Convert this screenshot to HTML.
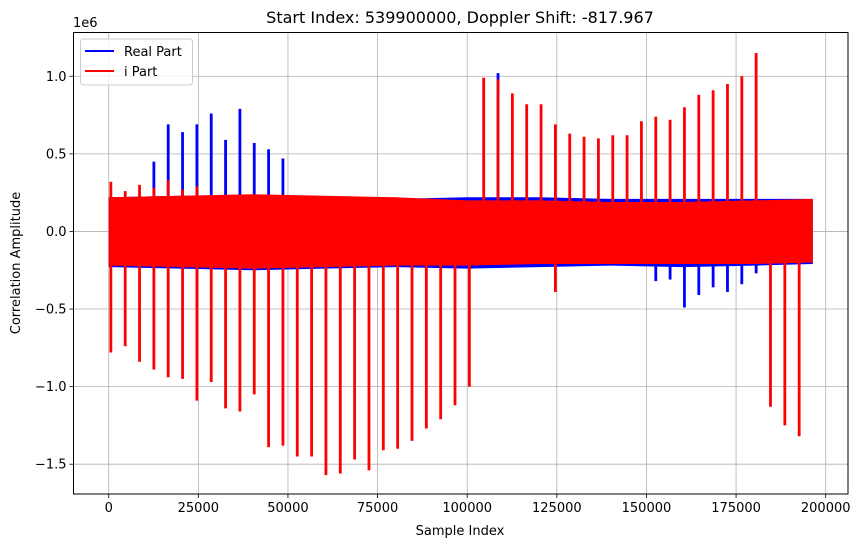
<!DOCTYPE html>
<html><head><meta charset="utf-8"><style>
body{margin:0;background:#fff;}
svg text{font-family:"DejaVu Sans","Liberation Sans",sans-serif;fill:#000;}
</style></head><body>
<svg id="chart" width="863" height="547" viewBox="0 0 863 547" xmlns="http://www.w3.org/2000/svg"></svg>
<script>
// ---- data (amplitudes in 1e6) ----
const spikeOffset = 600, spikeStep = 4000;
const redNegK = [0,1,2,3,4,5,6,7,8,9,10,11,12,13,14,15,16,17,18,19,20,21,22,23,24,25,31,46,47,48];
const redNegV = [-0.78,-0.74,-0.84,-0.89,-0.94,-0.95,-1.09,-0.97,-1.14,-1.16,-1.05,-1.39,-1.38,-1.45,-1.45,-1.57,-1.56,-1.47,-1.54,-1.41,-1.40,-1.35,-1.27,-1.21,-1.12,-1.00,-0.39,-1.13,-1.25,-1.32];
const redPosK = [0,1,2,3,4,5,6,26,27,28,29,30,31,32,33,34,35,36,37,38,39,40,41,42,43,44,45];
const redPosV = [0.32,0.26,0.30,0.28,0.33,0.27,0.29,0.99,0.98,0.89,0.82,0.82,0.69,0.63,0.61,0.60,0.62,0.62,0.71,0.74,0.72,0.80,0.88,0.91,0.95,1.00,1.15];
const bluePosK = [3,4,5,6,7,8,9,10,11,12,27];
const bluePosV = [0.45,0.69,0.64,0.69,0.76,0.59,0.79,0.57,0.53,0.47,1.02];
const blueNegK = [38,39,40,41,42,43,44,45];
const blueNegV = [-0.32,-0.31,-0.49,-0.41,-0.36,-0.39,-0.34,-0.27];
// noise envelopes sampled at these sample indices
const envX = [0,20000,40000,60000,80000,100000,120000,140000,160000,180000,196400];
const blueUp = [0.22,0.23,0.23,0.22,0.21,0.22,0.22,0.21,0.21,0.21,0.21];
const blueLo = [-0.23,-0.24,-0.25,-0.24,-0.23,-0.24,-0.23,-0.22,-0.23,-0.22,-0.21];
const redUp = [0.22,0.23,0.24,0.23,0.22,0.20,0.20,0.19,0.19,0.20,0.21];
const redLo = [-0.22,-0.23,-0.24,-0.23,-0.22,-0.22,-0.21,-0.21,-0.21,-0.21,-0.20];
const xTicks = [0,25000,50000,75000,100000,125000,150000,175000,200000];
const yTicks = [-1.5,-1.0,-0.5,0.0,0.5,1.0];
const yTickLabels = ["−1.5","−1.0","−0.5","0.0","0.5","1.0"];

const L=73.5,R=848,T=32.5,B=494;
const xMin=-9820,xMax=206220,yMin=-1.692,yMax=1.282;
const X=v=>L+(v-xMin)/(xMax-xMin)*(R-L);
const Y=v=>B-(v-yMin)/(yMax-yMin)*(B-T);
const NS='http://www.w3.org/2000/svg';
const svg=document.getElementById('chart');
function mk(tag,attrs,parent){const e=document.createElementNS(NS,tag);for(const k in attrs)e.setAttribute(k,attrs[k]);(parent||svg).appendChild(e);return e;}

// grid
xTicks.forEach(t=>{
  const g=mk('line',{x1:X(t),x2:X(t),y1:T,y2:B,stroke:'#b0b0b0','stroke-width':0.8});
  
  
});
yTicks.forEach(t=>{
  const g=mk('line',{x1:L,x2:R,y1:Y(t),y2:Y(t),stroke:'#b0b0b0','stroke-width':0.8});
  
  
});

function band(up,lo,color,name){
  let pts=envX.map((s,i)=>X(s)+','+Y(up[i]));
  for(let i=envX.length-1;i>=0;i--)pts.push(X(envX[i])+','+Y(lo[i]));
  const p=mk('polygon',{points:pts.join(' '),fill:color});
  
  
}
function spikes(ks,vs,color,name){
  ks.forEach((k,i)=>{
    const s=spikeOffset+k*spikeStep;
    const l=mk('line',{x1:X(s),x2:X(s),y1:Y(0),y2:Y(vs[i]),stroke:color,'stroke-width':2.8});
    
    
  });
}
band(blueUp,blueLo,'#0000ff','real-part-noise');
spikes(bluePosK,bluePosV,'#0000ff','real-part-spike');
spikes(blueNegK,blueNegV,'#0000ff','real-part-spike');
band(redUp,redLo,'#ff0000','i-part-noise');
spikes(redNegK,redNegV,'#ff0000','i-part-spike');
spikes(redPosK,redPosV,'#ff0000','i-part-spike');

// frame
const fr=mk('rect',{x:L,y:T,width:R-L,height:B-T,fill:'none',stroke:'#000','stroke-width':1});



// ticks
xTicks.forEach(t=>{
  mk('line',{x1:X(t),x2:X(t),y1:B,y2:B+4,stroke:'#000','stroke-width':0.8});
  const tx=mk('text',{x:X(t),y:B+18,'font-size':13,'text-anchor':'middle'});
  tx.textContent=String(t);
  
  
});
yTicks.forEach((t,i)=>{
  mk('line',{x1:L-4,x2:L,y1:Y(t),y2:Y(t),stroke:'#000','stroke-width':0.8});
  const tx=mk('text',{x:L-7,y:Y(t)+4.5,'font-size':13,'text-anchor':'end'});
  tx.textContent=yTickLabels[i];
  
  
});
</script>
<svg style="position:absolute;left:0;top:0" width="863" height="547">
<text x="73" y="27" font-size="13">1e6</text>
<text x="460" y="23" font-size="16" text-anchor="middle">Start Index: 539900000, Doppler Shift: -817.967</text>
<text x="460" y="535" font-size="13" text-anchor="middle">Sample Index</text>
<text x="20" y="263" font-size="13" text-anchor="middle" transform="rotate(-90 20 263)">Correlation Amplitude</text>
<g>
<rect x="80.5" y="39" width="112" height="46" rx="3" fill="#fff" fill-opacity="0.8" stroke="#ccc"/>
<line x1="85" x2="114" y1="51" y2="51" stroke="#0000ff" stroke-width="2"/>
<text x="124" y="56" font-size="13">Real Part</text>
<line x1="85" x2="114" y1="71" y2="71" stroke="#ff0000" stroke-width="2"/>
<text x="124" y="76" font-size="13">i Part</text>
</g>
</svg>
</body></html>
